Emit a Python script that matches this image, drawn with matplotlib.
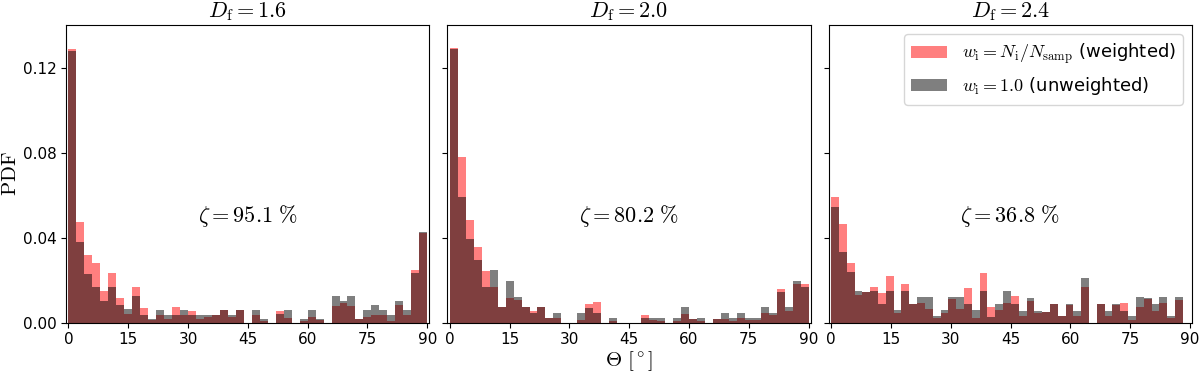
import numpy as np
import matplotlib
matplotlib.use("Agg")
import matplotlib.pyplot as plt

plt.rcParams["mathtext.fontset"] = "cm"
plt.rcParams["font.family"] = ["DejaVu Sans"]

# fractal dimension of each sample, fraction zeta, upper edge of histogram range
d_frac = [1.6, 2.0, 2.4]
zeta = [95.1, 80.2, 36.8]
theta_max = [90.0, 90.0, 88.2]
n_bins = 45

# PDF per 2-degree bin
pdf_w_16 = [0.1288, 0.0475, 0.0317, 0.0280, 0.0149, 0.0232, 0.0116, 0.0042, 0.0167, 0.0069,
            0.0011, 0.0038, 0.0019, 0.0075, 0.0036, 0.0053, 0.0016, 0.0028, 0.0038, 0.0061,
            0.0027, 0.0061, 0.0000, 0.0035, 0.0008, 0.0000, 0.0056, 0.0022, 0.0000, 0.0008,
            0.0027, 0.0013, 0.0000, 0.0078, 0.0091, 0.0077, 0.0016, 0.0027, 0.0035, 0.0038,
            0.0008, 0.0082, 0.0035, 0.0247, 0.0424]
pdf_u_16 = [0.1278, 0.0381, 0.0231, 0.0168, 0.0103, 0.0168, 0.0082, 0.0063, 0.0125, 0.0038,
            0.0019, 0.0061, 0.0038, 0.0038, 0.0061, 0.0038, 0.0038, 0.0038, 0.0038, 0.0061,
            0.0038, 0.0061, 0.0000, 0.0061, 0.0019, 0.0000, 0.0039, 0.0061, 0.0000, 0.0019,
            0.0061, 0.0019, 0.0000, 0.0124, 0.0102, 0.0124, 0.0016, 0.0061, 0.0082, 0.0061,
            0.0038, 0.0104, 0.0061, 0.0232, 0.0425]

pdf_w_20 = [0.1294, 0.0778, 0.0483, 0.0355, 0.0244, 0.0166, 0.0072, 0.0115, 0.0105, 0.0074,
            0.0055, 0.0075, 0.0021, 0.0022, 0.0000, 0.0000, 0.0011, 0.0089, 0.0097, 0.0000,
            0.0008, 0.0000, 0.0000, 0.0000, 0.0035, 0.0013, 0.0007, 0.0000, 0.0007, 0.0041,
            0.0019, 0.0007, 0.0000, 0.0020, 0.0016, 0.0007, 0.0021, 0.0011, 0.0012, 0.0044,
            0.0036, 0.0158, 0.0054, 0.0182, 0.0184]
pdf_u_20 = [0.1286, 0.0593, 0.0394, 0.0295, 0.0168, 0.0246, 0.0072, 0.0195, 0.0121, 0.0074,
            0.0047, 0.0075, 0.0021, 0.0045, 0.0000, 0.0000, 0.0047, 0.0071, 0.0045, 0.0000,
            0.0022, 0.0000, 0.0000, 0.0000, 0.0021, 0.0022, 0.0022, 0.0000, 0.0022, 0.0072,
            0.0019, 0.0022, 0.0000, 0.0020, 0.0047, 0.0021, 0.0047, 0.0021, 0.0021, 0.0072,
            0.0047, 0.0145, 0.0072, 0.0195, 0.0169]

pdf_w_24 = [0.0593, 0.0464, 0.0282, 0.0130, 0.0147, 0.0168, 0.0140, 0.0220, 0.0044, 0.0180,
            0.0088, 0.0094, 0.0066, 0.0022, 0.0047, 0.0110, 0.0063, 0.0162, 0.0024, 0.0232,
            0.0074, 0.0058, 0.0094, 0.0125, 0.0031, 0.0100, 0.0044, 0.0049, 0.0088, 0.0030,
            0.0082, 0.0030, 0.0166, 0.0000, 0.0088, 0.0030, 0.0082, 0.0094, 0.0011, 0.0072,
            0.0113, 0.0056, 0.0094, 0.0022, 0.0107]
pdf_u_24 = [0.0543, 0.0331, 0.0240, 0.0149, 0.0147, 0.0149, 0.0089, 0.0149, 0.0058, 0.0149,
            0.0088, 0.0119, 0.0119, 0.0030, 0.0058, 0.0119, 0.0119, 0.0088, 0.0058, 0.0149,
            0.0027, 0.0088, 0.0149, 0.0088, 0.0055, 0.0118, 0.0056, 0.0049, 0.0088, 0.0030,
            0.0088, 0.0056, 0.0209, 0.0000, 0.0088, 0.0056, 0.0088, 0.0056, 0.0030, 0.0119,
            0.0118, 0.0088, 0.0119, 0.0030, 0.0119]

weighted = [pdf_w_16, pdf_w_20, pdf_w_24]
unweighted = [pdf_u_16, pdf_u_20, pdf_u_24]

fig, axes = plt.subplots(1, 3, figsize=(12, 3.74), dpi=100, sharey=True)
fig.subplots_adjust(left=0.055, right=0.9933, bottom=0.137, top=0.933, wspace=0.05)

for ax, df, z, tmax, pw, pu in zip(axes, d_frac, zeta, theta_max, weighted, unweighted):
    edges = np.linspace(0, tmax, n_bins + 1)
    mids = 0.5 * (edges[1:] + edges[:-1])
    ax.hist(mids, bins=edges, weights=pw, color="red", alpha=0.5,
            label=r"$w_\mathrm{i} = N_\mathrm{i}/N_\mathrm{samp}$ (weighted)")
    ax.hist(mids, bins=edges, weights=pu, color="k", alpha=0.5,
            label=r"$w_\mathrm{i} = 1.0$ (unweighted)")
    ax.set_title(rf"$D_\mathrm{{f}} = {df}$", fontsize=16)
    ax.text(0.5, 0.358, rf"$\zeta = {z}\ \%$", transform=ax.transAxes,
            ha="center", va="center", fontsize=16)
    ax.set_xlim(-0.6, 90.5)
    ax.set_xticks(np.arange(0, 91, 15))
    ax.tick_params(labelsize=11)

axes[0].set_ylim(0, 0.14)
axes[0].set_yticks([0, 0.04, 0.08, 0.12])
axes[0].yaxis.set_major_formatter("{x:.2f}")
axes[0].set_ylabel(r"$\mathrm{PDF}$", fontsize=15, labelpad=2)
axes[1].set_xlabel(r"$\Theta\ [^\circ]$", fontsize=15, labelpad=1)
axes[2].legend(loc="upper right", fontsize=13)

fig.savefig("out.png", dpi=100, facecolor="white")
